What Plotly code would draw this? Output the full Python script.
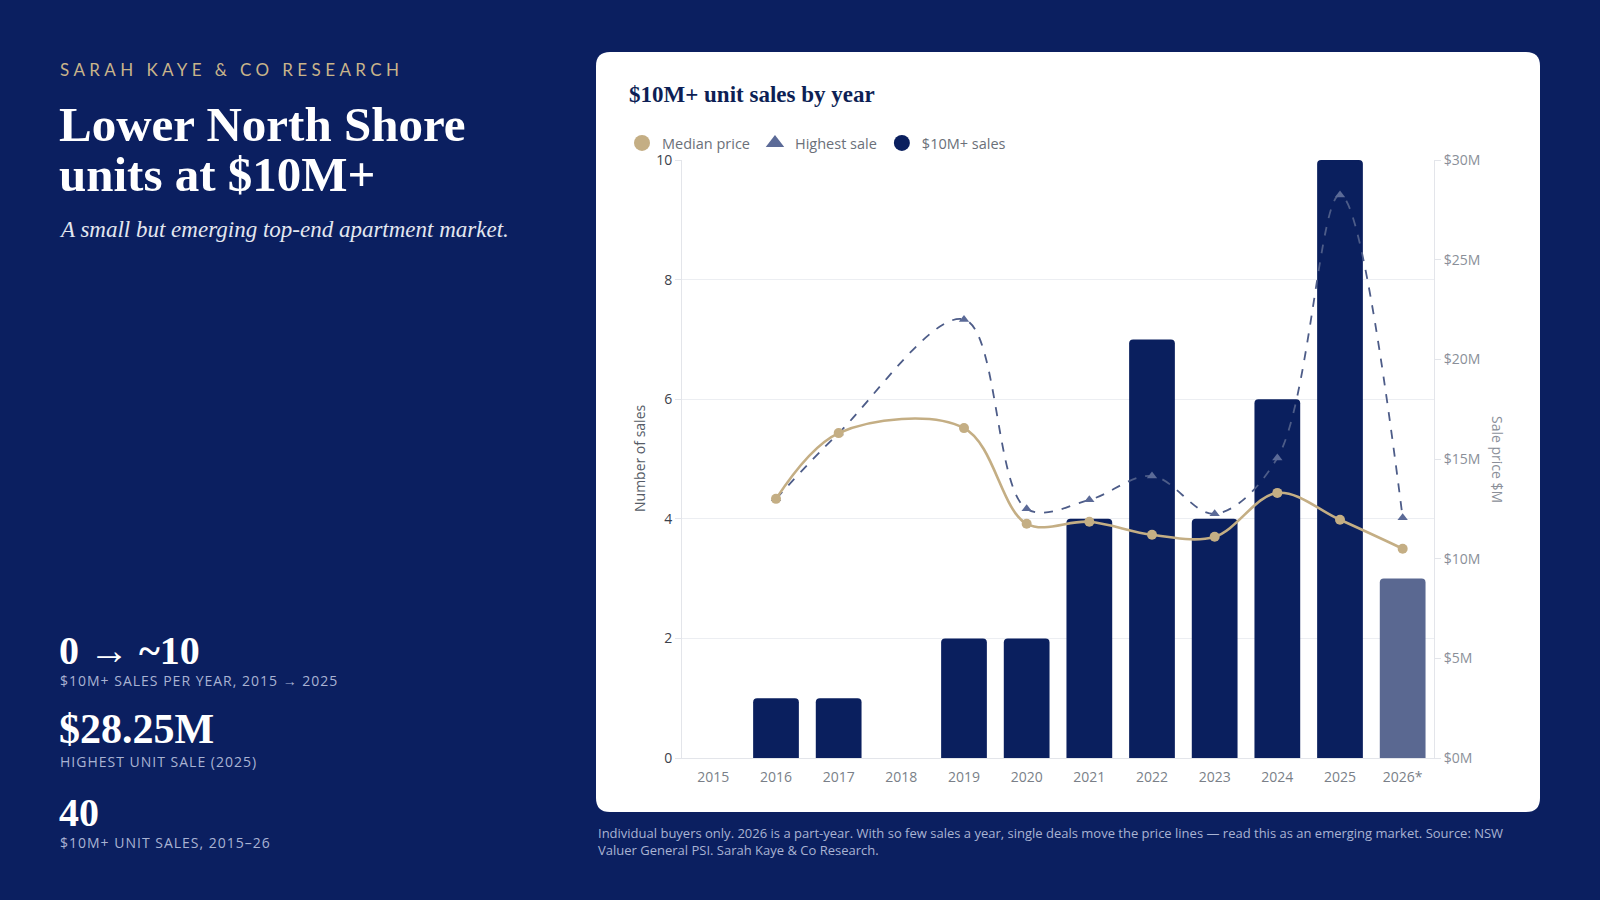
import plotly.graph_objects as go

# ---------------- data ----------------
years = ["2015", "2016", "2017", "2018", "2019", "2020", "2021", "2022", "2023", "2024", "2025", "2026*"]
sales_count = [0, 1, 1, 0, 2, 2, 4, 7, 4, 6, 10, 3]
median_price = [None, 13.0, 16.3, None, 16.55, 11.75, 11.85, 11.2, 11.1, 13.3, 11.95, 10.5]
highest_sale = [None, 13.0, 16.3, None, 22.0, 12.5, 12.95, 14.15, 12.25, 15.05, 28.25, 12.05]

left_ticks = [0, 2, 4, 6, 8, 10]
right_tickvals = [0, 5, 10, 15, 20, 25, 30]
right_ticktext = ["$0M", "$5M", "$10M", "$15M", "$20M", "$25M", "$30M"]

# ---------------- style ----------------
W, H = 1600, 900
NAVY_BG = "#0b1f60"
BAR_NAVY = "#0a1f5e"
BAR_PART = "#5a6891"
GOLD = "#c4ae84"
SLATE = "#4d5c88"
SERIF = "Liberation Serif"
SANS = "Open Sans"

def px(x):
    return x / W

def py(y):
    return 1 - y / H

bar_colors = [BAR_PART if y.endswith("*") else BAR_NAVY for y in years]

fig = go.Figure()

fig.add_trace(go.Bar(
    x=years, y=sales_count, name="$10M+ sales",
    marker=dict(color=bar_colors, line=dict(width=0)),
    legendgroup="sales", showlegend=False, yaxis="y",
))

fig.add_trace(go.Scatter(
    x=years, y=highest_sale, name="Highest sale", yaxis="y2",
    mode="lines+markers", connectgaps=True,
    line=dict(color=SLATE, width=1.8, dash="dash", shape="spline", smoothing=1),
    marker=dict(symbol="triangle-up", size=9, color="#5b6a97"),
    legendgroup="high", showlegend=False,
))

fig.add_trace(go.Scatter(
    x=years, y=median_price, name="Median price", yaxis="y2",
    mode="lines+markers", connectgaps=True,
    line=dict(color=GOLD, width=2.6, shape="spline", smoothing=1),
    marker=dict(symbol="circle", size=10, color=GOLD),
    legendgroup="median", showlegend=False,
))

# legend-only entries (symbols as in the reference legend)
for nm, sym, col, grp in [("Median price", "circle", GOLD, "median"),
                          ("Highest sale", "triangle-up", "#5b6a97", "high"),
                          ("$10M+ sales", "circle", BAR_NAVY, "sales")]:
    fig.add_trace(go.Scatter(
        x=[None], y=[None], name=nm, mode="markers", yaxis="y2",
        marker=dict(symbol=sym, size=16, color=col),
        legendgroup=grp, showlegend=True, hoverinfo="skip",
    ))

# card
x0, x1, y0, y1, r = 596, 1540, 52, 812, 14
rx, ry = r / W, r / H
X0, X1, Y0, Y1 = px(x0), px(x1), py(y1), py(y0)
card_path = (
    f"M {X0+rx},{Y0} L {X1-rx},{Y0} Q {X1},{Y0} {X1},{Y0+ry} "
    f"L {X1},{Y1-ry} Q {X1},{Y1} {X1-rx},{Y1} "
    f"L {X0+rx},{Y1} Q {X0},{Y1} {X0},{Y1-ry} "
    f"L {X0},{Y0+ry} Q {X0},{Y0} {X0+rx},{Y0} Z"
)

shapes = [dict(type="path", path=card_path, xref="paper", yref="paper",
               fillcolor="#ffffff", line=dict(width=0), layer="below")]

ann = []

def text(x, y, s, size, color, family=SANS, xanchor="left", yanchor="middle", angle=0, align="left"):
    ann.append(dict(x=px(x), y=py(y), xref="paper", yref="paper", text=s, showarrow=False,
                    xanchor=xanchor, yanchor=yanchor, textangle=angle, align=align,
                    font=dict(size=size, color=color, family=family)))

def spaced(s, sp):
    return f'<span style="letter-spacing:{sp}px">{s}</span>'

# left panel
text(58, 70, spaced("SARAH KAYE &amp; CO RESEARCH", 4.4), 17, "#c9b48a", family="Lato")
text(57, 124, "<b>Lower North Shore</b>", 49, "#ffffff", family=SERIF)
text(57, 175, "<b>units at $10M+</b>", 49, "#ffffff", family=SERIF)
text(57, 230, "<i>A small but emerging top-end apartment market.</i>", 23, "#e3e7f0", family=SERIF)

STAT_LBL = "#a9b3d3"
for val, lbl, yb, vshift, vs in [("<b>0 → ~10</b>", "$10M+ SALES PER YEAR, 2015 → 2025", 669, 6, 40),
                                 ("<b>$28.25M</b>", "HIGHEST UNIT SALE (2025)", 750, 4, 42),
                                 ("<b>40</b>", "$10M+ UNIT SALES, 2015–26", 831, 6, 40)]:
    text(57, yb + vshift, val, vs, "#ffffff", family=SERIF, yanchor="bottom")
    text(58, yb, spaced(lbl, 1.0), 14, STAT_LBL, yanchor="top")

# chart card texts
text(627, 94, "<b>$10M+ unit sales by year</b>", 23, "#0d1f55", family=SERIF)
text(639, 459, "Number of sales", 14, "#555b66", xanchor="center", angle=-90)
text(1498, 459, "Sale price $M", 14, "#8a8f99", xanchor="center", angle=90)

# footnote
text(596, 841,
     "Individual buyers only. 2026 is a part-year. With so few sales a year, single deals move the price lines — "
     "read this as an emerging market. Source: NSW<br>Valuer General PSI. Sarah Kaye &amp; Co Research.",
     13, "#a9b3d3")

fig.update_layout(
    width=W, height=H,
    margin=dict(l=0, r=0, t=0, b=0, pad=0, autoexpand=False),
    paper_bgcolor=NAVY_BG,
    plot_bgcolor="rgba(0,0,0,0)",
    font=dict(family=SANS, color="#666a73", size=14),
    bargap=0.27,
    barcornerradius=4,
    showlegend=True,
    legend=dict(orientation="h", x=px(622), y=py(143), xanchor="left", yanchor="middle",
                bgcolor="rgba(0,0,0,0)", font=dict(size=14.5, color="#6b7079", family=SANS),
                itemwidth=30, itemsizing="trace", tracegroupgap=0),
    xaxis=dict(domain=[px(682), px(1434)], type="category", categoryorder="array", categoryarray=years,
               range=[-0.5, len(years) - 0.5], autorange=False,
               showgrid=False, showline=True, linecolor="#e3e5ea", linewidth=1,
               ticks="", tickfont=dict(size=14, color="#7a7f88"), ticklabelstandoff=6, fixedrange=True),
    yaxis=dict(domain=[py(758), py(160)], range=[0, 10], tickvals=left_ticks,
               showgrid=True, gridcolor="#eceef2", gridwidth=1, zeroline=False,
               showline=True, linecolor="#e3e5ea", linewidth=1,
               ticks="outside", ticklen=6, tickcolor="#e3e5ea",
               tickfont=dict(size=14, color="#3c414b"), fixedrange=True),
    yaxis2=dict(overlaying="y", side="right", anchor="x", range=[0, 30],
                tickvals=right_tickvals, ticktext=right_ticktext,
                showgrid=False, zeroline=False, showline=True, linecolor="#e3e5ea", linewidth=1,
                ticks="outside", ticklen=6, tickcolor="#e3e5ea",
                tickfont=dict(size=14, color="#8a8f99"), fixedrange=True),
    shapes=shapes,
    annotations=ann,
)

fig.write_html("out.html")
